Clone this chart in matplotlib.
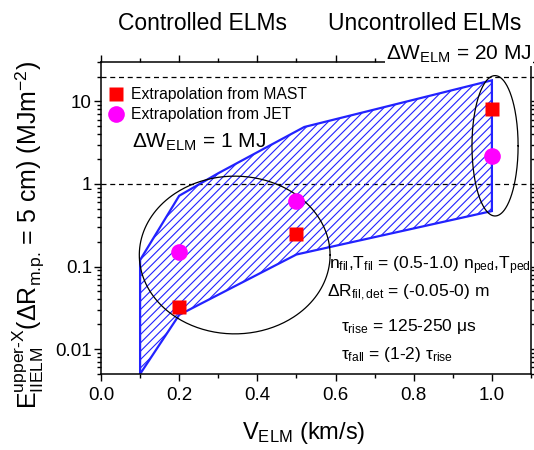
import numpy as np
import matplotlib
matplotlib.use("Agg")
import matplotlib.pyplot as plt
from matplotlib.ticker import MultipleLocator, LogLocator, NullFormatter, FixedFormatter, FixedLocator

plt.rcParams['font.family'] = ['Liberation Sans', 'DejaVu Sans']
plt.rcParams['mathtext.fontset'] = 'custom'
plt.rcParams['mathtext.rm'] = 'Liberation Sans'
plt.rcParams['mathtext.it'] = 'Liberation Sans'
plt.rcParams['mathtext.bf'] = 'Liberation Sans:bold'
plt.rcParams['hatch.linewidth'] = 0.8

# hatched band (upper edge left->right, lower edge right->left)
v_upper = [0.1, 0.2, 0.3, 0.52, 1.0]
e_upper = [0.12, 0.72, 1.35, 4.9, 18.0]
v_lower = [1.0, 0.5, 0.2, 0.1]
e_lower = [0.47, 0.14, 0.026, 0.005]

# extrapolated points
v_mast = [0.2, 0.5, 1.0]
e_mast = [0.032, 0.25, 8.2]
v_jet = [0.2, 0.5, 1.0]
e_jet = [0.15, 0.63, 2.2]

# energy levels (dashed lines)
e_levels = [1.0, 20.0]

# ellipses: centre v, centre E, half-width in v, half-height in decades
ell_controlled = (0.342, 0.138, 0.244, 0.955)
ell_uncontrolled = (1.008, 2.9, 0.059, 0.85)

fig = plt.figure(figsize=(5.34, 4.5), dpi=100)
ax = fig.add_axes([101 / 534, 76 / 450, 430 / 534, 312 / 450])
ax.set_yscale('log')
ax.set_xlim(0, 1.1)
ax.set_ylim(0.005, 30)

blue = '#2222ff'
ax.fill(v_upper + v_lower, e_upper + e_lower, facecolor='none',
        edgecolor=blue, hatch='////', linewidth=1.6, zorder=2)

for lev in e_levels:
    ax.axhline(lev, color='k', lw=0.9, ls=(0, (4, 3)), zorder=1)

for cv, ce, a, b in [ell_controlled, ell_uncontrolled]:
    t = np.linspace(0, 2 * np.pi, 300)
    ax.plot(cv + a * np.cos(t), 10 ** (np.log10(ce) + b * np.sin(t)),
            color='k', lw=0.9, zorder=3)

ax.plot(v_mast, e_mast, 's', color='#ff0000', ms=9.5, mec='none',
        ls='none', label='Extrapolation from MAST', zorder=4)
ax.plot(v_jet, e_jet, 'o', color='#ff00ff', ms=12, mec='none',
        ls='none', label='Extrapolation from JET', zorder=4)

leg = ax.legend(loc='upper left', bbox_to_anchor=(-0.015, 0.955), frameon=False,
                fontsize=11.3, handletextpad=0.35, labelspacing=0.32,
                handlelength=1.3, borderpad=0.2)

# ticks
ax.xaxis.set_major_locator(MultipleLocator(0.2))
ax.xaxis.set_minor_locator(MultipleLocator(0.1))
ax.xaxis.set_major_formatter(plt.FormatStrFormatter('%.1f'))
ax.yaxis.set_major_locator(FixedLocator([0.01, 0.1, 1, 10]))
ax.yaxis.set_major_formatter(FixedFormatter(['0.01', '0.1', '1', '10']))
ax.yaxis.set_minor_locator(LogLocator(base=10, subs=np.arange(2, 10)))
ax.yaxis.set_minor_formatter(NullFormatter())
ax.tick_params(which='both', direction='out', top=True, right=True,
               labelsize=13.5, width=1)
ax.tick_params(which='major', length=5)
ax.tick_params(which='minor', length=3)
ax.tick_params(axis='x', which='major', pad=4)
ax.tick_params(axis='y', which='major', pad=1.5)
for s in ax.spines.values():
    s.set_linewidth(1.1)

# labels
fig.text(304 / 534, 1 - 433 / 450, r'V$_{ELM}$ (km/s)', fontsize=17,
         ha='center', va='center')
fig.text(28 / 534, 1 - 235 / 450,
         r'E$_{IIELM}^{upper\text{-}X}$($\Delta$R$_{\text{m.p.}}$ = 5 cm) (MJm$^{-2}$)',
         fontsize=18, rotation=90, ha='center', va='center')

fig.text(203 / 534, 1 - 23 / 450, 'Controlled ELMs', fontsize=16.5,
         ha='center', va='center')
fig.text(425 / 534, 1 - 23 / 450, 'Uncontrolled ELMs', fontsize=16.5,
         ha='center', va='center')
fig.text(386 / 534, 1 - 54 / 450, r'$\Delta$W$_{ELM}$ = 20 MJ', fontsize=15,
         ha='left', va='center', zorder=10,
         bbox=dict(facecolor='white', edgecolor='none', pad=1))
fig.text(132 / 534, 1 - 142 / 450, r'$\Delta$W$_{ELM}$ = 1 MJ', fontsize=15,
         ha='left', va='center')

fig.text(329 / 534, 1 - 266 / 450,
         r'n$_{fil}$,T$_{fil}$ = (0.5-1.0) n$_{ped}$,T$_{ped}$',
         fontsize=12.5, ha='left', va='center')
fig.text(327 / 534, 1 - 293 / 450, r'$\Delta$R$_{fil,det}$ = (-0.05-0) m',
         fontsize=12.5, ha='left', va='center')
fig.text(341 / 534, 1 - 326 / 450, r'$\tau_{rise}$ = 125-250 $\mu$s',
         fontsize=12.5, ha='left', va='center')
fig.text(341 / 534, 1 - 355 / 450, r'$\tau_{fall}$ = (1-2) $\tau_{rise}$',
         fontsize=12.5, ha='left', va='center')

fig.savefig('out.png', dpi=100)
